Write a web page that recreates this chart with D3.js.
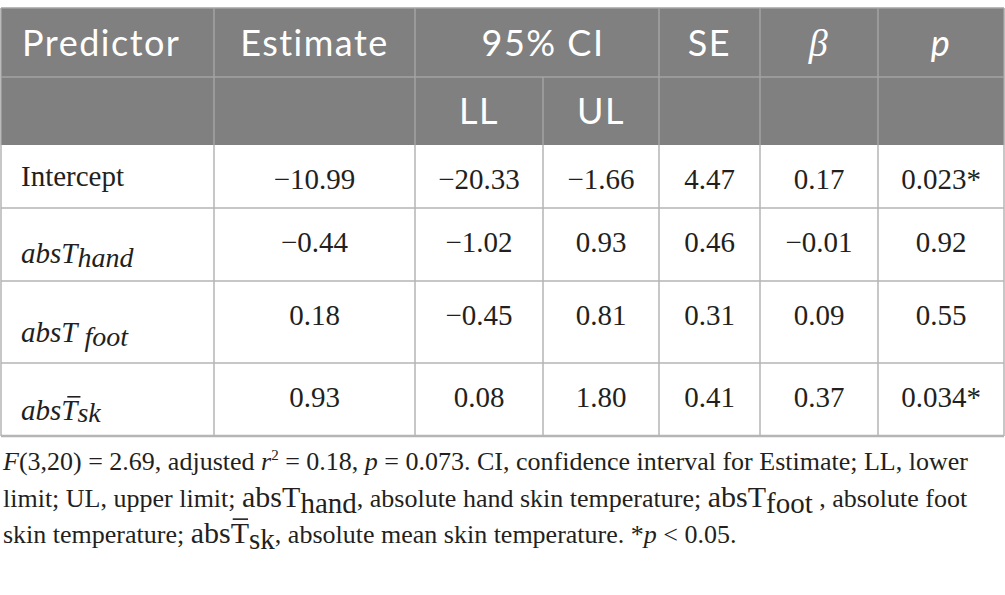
<!DOCTYPE html>
<html>
<head>
<meta charset="utf-8">
<script src="https://cdn.jsdelivr.net/npm/d3@7"></script>
<style>
  html, body { margin: 0; padding: 0; background: #fff; }
  svg { display: block; }
</style>
</head>
<body>
<script>
// ---------- data ----------
const headers = ["Predictor", "Estimate", "95% CI", "SE", "β", "p"];
const subHeaders = ["LL", "UL"];
const predictors = ["Intercept", "absThand", "absTfoot", "absTsk"];
const estimate = [-10.99, -0.44, 0.18, 0.93];
const lowerLimit = [-20.33, -1.02, -0.45, 0.08];
const upperLimit = [-1.66, 0.93, 0.81, 1.80];
const stdError = [4.47, 0.46, 0.31, 0.41];
const beta = [0.17, -0.01, 0.09, 0.37];
const pValues = ["0.023*", "0.92", "0.55", "0.034*"];

// ---------- layout ----------
const W = 1005, H = 595;
const colEdges = [1, 214, 415, 543, 659, 760, 878, 1004];
const rowEdges = [8, 77, 145, 208, 281, 363, 436];
const headFill = "#808080", headLine = "#a3a3a3", bodyLine = "#b5b5b5";
const sansFont = "Lato, 'Open Sans', sans-serif";
const serifFont = "'Liberation Serif', 'Times New Roman', serif";

const svg = d3.select("body").append("svg").attr("width", W).attr("height", H);

const fmt = d3.format(".2f");
const colCenter = i => (colEdges[i] + colEdges[i + 1]) / 2;

// header background
svg.append("rect").attr("x", colEdges[0]).attr("y", rowEdges[0])
  .attr("width", colEdges[7] - colEdges[0]).attr("height", rowEdges[2] - rowEdges[0])
  .attr("fill", headFill);

// header lines
const hl = svg.append("g").attr("stroke", headLine).attr("stroke-width", 1.5);
hl.append("line").attr("x1", colEdges[0]).attr("x2", colEdges[7]).attr("y1", rowEdges[0]).attr("y2", rowEdges[0]);
hl.append("line").attr("x1", colEdges[0]).attr("x2", colEdges[7]).attr("y1", rowEdges[1]).attr("y2", rowEdges[1]);
[0, 1, 2, 4, 5, 6, 7].forEach(i => {
  hl.append("line").attr("x1", colEdges[i]).attr("x2", colEdges[i]).attr("y1", rowEdges[0]).attr("y2", rowEdges[2]);
});
hl.append("line").attr("x1", colEdges[3]).attr("x2", colEdges[3]).attr("y1", rowEdges[1]).attr("y2", rowEdges[2]);

// header text
const hText = svg.append("g").attr("fill", "#fff").attr("font-family", sansFont)
  .attr("font-size", 36).attr("letter-spacing", 1.5);
const headBase = 56, subBase = 124;
hText.append("text").attr("x", 22).attr("y", headBase).text(headers[0]);
hText.append("text").attr("x", colCenter(1)).attr("y", headBase).attr("text-anchor", "middle").text(headers[1]);
hText.append("text").attr("x", colEdges[3]).attr("y", headBase).attr("text-anchor", "middle").text(headers[2]);
hText.append("text").attr("x", colCenter(4)).attr("y", headBase).attr("text-anchor", "middle").text(headers[3]);
hText.append("text").attr("x", colCenter(5)).attr("y", headBase).attr("text-anchor", "middle")
  .attr("font-family", serifFont).attr("font-style", "italic").attr("font-size", 38).text(headers[4]);
hText.append("text").attr("x", colCenter(6)).attr("y", headBase).attr("text-anchor", "middle")
  .attr("font-style", "italic").text(headers[5]);
hText.append("text").attr("x", colCenter(2)).attr("y", subBase).attr("text-anchor", "middle").text(subHeaders[0]);
hText.append("text").attr("x", colCenter(3)).attr("y", subBase).attr("text-anchor", "middle").text(subHeaders[1]);

// body lines
const bl = svg.append("g").attr("stroke", bodyLine).attr("stroke-width", 1.5);
rowEdges.slice(3).forEach(y => {
  bl.append("line").attr("x1", colEdges[0]).attr("x2", colEdges[7]).attr("y1", y).attr("y2", y);
});
bl.select("line:last-child").attr("stroke-width", 2.5);
colEdges.forEach(x => {
  bl.append("line").attr("x1", x).attr("x2", x).attr("y1", rowEdges[2]).attr("y2", rowEdges[6]);
});

// rich text helper
function richText(g, x, y, segs, base) {
  const t = g.append("text").attr("x", x).attr("y", y)
    .attr("font-family", serifFont).attr("font-size", base.size).attr("fill", "#231f20");
  if (base.anchor) t.attr("text-anchor", base.anchor);
  let shift = 0, idx = 0;
  const overs = [];
  segs.forEach(s => {
    const ts = t.append("tspan").text(s.t);
    const sh = s.sub || 0;
    if (sh - shift !== 0) ts.attr("dy", sh - shift);
    shift = sh;
    if (s.size) ts.attr("font-size", s.size);
    if (s.italic || base.italic) ts.attr("font-style", "italic");
    if (s.dx) ts.attr("dx", s.dx);
    if (s.over) overs.push({ i: idx, size: s.size || base.size, italic: s.italic || base.italic });
    idx += s.t.length;
  });
  overs.forEach(o => {
    const e = t.node().getExtentOfChar(o.i);
    const yy = y - o.size * 0.662 - 4;
    const sl = o.italic ? 4 : 0;
    g.append("line").attr("x1", e.x + 2 + sl).attr("x2", e.x + e.width - 1 + sl)
      .attr("y1", yy).attr("y2", yy).attr("stroke", "#231f20").attr("stroke-width", 1.6);
  });
  return t;
}

// predictor labels
const body = svg.append("g");
const labelSegs = [
  [{ t: predictors[0] }],
  [{ t: predictors[1].slice(0, 4) }, { t: predictors[1].slice(4), sub: 4, size: 28 }],
  [{ t: predictors[2].slice(0, 4) }, { t: predictors[2].slice(4), sub: 4, size: 28, dx: 7 }],
  [{ t: predictors[3].slice(0, 3) }, { t: predictors[3].slice(3, 4), over: true }, { t: predictors[3].slice(4), sub: 2, size: 28 }]
];
const labelBase = [186, 263, 342, 420];
labelSegs.forEach((segs, i) => {
  richText(body, 21, labelBase[i], segs, { size: 29, italic: i > 0 });
});

// values
const columns = [estimate, lowerLimit, upperLimit, stdError, beta];
predictors.forEach((_, r) => {
  const yb = rowEdges[r + 2] + 43.5;
  columns.forEach((arr, c) => {
    body.append("text").attr("x", colCenter(c + 1)).attr("y", yb).attr("text-anchor", "middle")
      .attr("font-family", serifFont).attr("font-size", 29).attr("fill", "#231f20")
      .text(fmt(arr[r]));
  });
  body.append("text").attr("x", colCenter(6)).attr("y", yb).attr("text-anchor", "middle")
    .attr("font-family", serifFont).attr("font-size", 29).attr("fill", "#231f20")
    .text(pValues[r]);
});

// footnote
const foot = svg.append("g");
const fs = 26;
richText(foot, 3, 470, [
  { t: "F", italic: true }, { t: "(3,20) = 2.69, adjusted " }, { t: "r", italic: true },
  { t: "2", size: 15, sub: -10 }, { t: " = 0.18, " }, { t: "p", italic: true },
  { t: " = 0.073. CI, confidence interval for Estimate; LL, lower" }
], { size: fs });
richText(foot, 3, 507, [
  { t: "limit; UL, upper limit; " }, { t: "absT", size: 30 }, { t: "hand", size: 29, sub: 6 },
  { t: ", absolute hand skin temperature; " }, { t: "absT", size: 30 }, { t: "foot", size: 29, sub: 6 },
  { t: " , absolute foot" }
], { size: fs });
richText(foot, 3, 543, [
  { t: "skin temperature; " }, { t: "abs", size: 30 }, { t: "T", size: 30, over: true },
  { t: "sk", size: 29, sub: 6 }, { t: ", absolute mean skin temperature. *" }, { t: "p", italic: true },
  { t: " < 0.05." }
], { size: fs });
</script>
</body>
</html>
